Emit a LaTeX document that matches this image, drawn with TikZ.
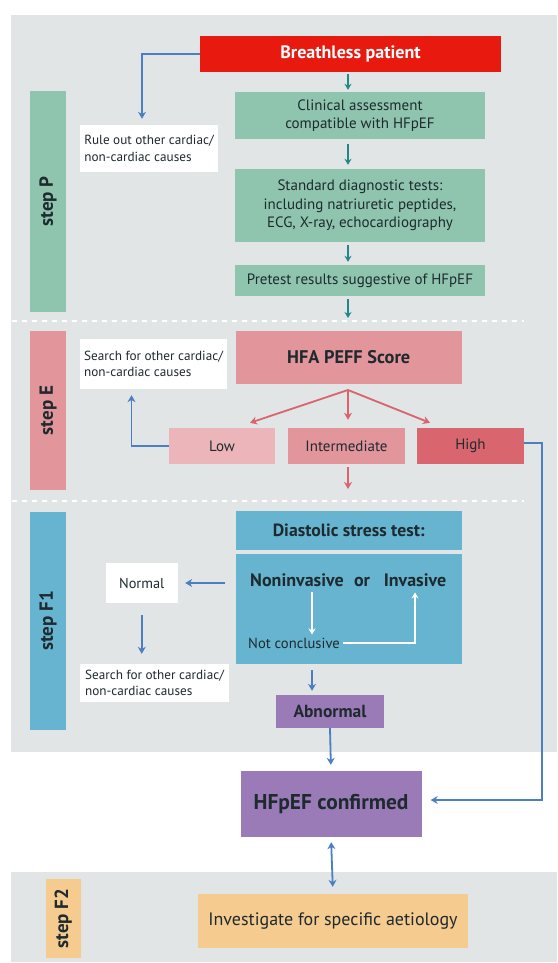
\documentclass[tikz,border=0pt]{standalone}
\usepackage{fontspec}
\setmainfont{PT Sans}
\usetikzlibrary{arrows.meta}

\definecolor{panelgray}{HTML}{E1E5E5}
\definecolor{textdark}{HTML}{1E2A2E}
\definecolor{alarmred}{HTML}{E8190E}
\definecolor{boxgreen}{HTML}{8FC4AE}
\definecolor{arrteal}{HTML}{23878A}
\definecolor{boxpink}{HTML}{E3959C}
\definecolor{lightpink}{HTML}{EBB5BA}
\definecolor{darkpink}{HTML}{D9666E}
\definecolor{arrpink}{HTML}{D9646C}
\definecolor{boxblue}{HTML}{66B4CF}
\definecolor{arrblue}{HTML}{4A7FC1}
\definecolor{boxpurple}{HTML}{9A7BB8}
\definecolor{boxtan}{HTML}{F5CB8F}

\tikzset{
  box/.style={inner sep=0pt, align=center, text=textdark},
  greenbox/.style={box, fill=boxgreen, minimum width=250pt, font=\fontsize{15}{18.5}\selectfont},
  notebox/.style={box, fill=white, align=left, font=\fontsize{13.2}{16.5}\selectfont},
  stepbar/.style={box, rotate=90, minimum height=36pt, font=\bfseries\fontsize{19}{20}\selectfont},
  levelbox/.style={box, minimum height=36pt, font=\fontsize{15}{17}\selectfont},
  choice/.style={box, anchor=base, font=\bfseries\fontsize{18}{20}\selectfont},
  sepline/.style={white, line width=2pt, dash pattern=on 5pt off 5pt},
  tealarr/.style={arrteal, line width=1.8pt, -{Stealth[length=6pt,width=7pt]}, shorten <=3pt, shorten >=3pt},
  pinkarr/.style={arrpink, line width=1.8pt, -{Stealth[length=7pt,width=8pt]}},
  bluearr/.style={arrblue, line width=1.8pt, -{Stealth[length=7pt,width=8pt]}},
  whitearr/.style={white, line width=1.8pt, -{Stealth[length=6pt,width=7pt]}}
}

\begin{document}
\begin{tikzpicture}[x=1pt,y=-1pt]
  \useasboundingbox (0,0) rectangle (557,963);
  % background bands
  \fill[panelgray] (11,15) rectangle (557,752);
  \fill[panelgray] (11,872) rectangle (557,962);
  \draw[sepline] (12,321) -- (524,321);
  \draw[sepline] (12,501) -- (524,501);
  \coordinate (spine) at (348,0);
  \coordinate (lane) at (312,0);

  % step P
  \node[stepbar, fill=boxgreen, minimum width=221pt] (stepP) at (48,201.5) {step P};
  \node[box, fill=alarmred, text=white, minimum width=301pt, minimum height=36pt,
    font=\bfseries\fontsize{18}{20}\selectfont] (breath) at (350.5,54) {Breathless patient};
  \node[greenbox, minimum height=47pt] (clin) at (360,115.5) {Clinical assessment\\compatible with HFpEF};
  \node[greenbox, minimum height=73pt] (stdtests) at (360,205.5)
    {Standard diagnostic tests:\\including natriuretic peptides,\\ECG, X-ray, echocardiography};
  \node[greenbox, minimum height=31pt] (pretest) at (360,280.5) {Pretest results suggestive of HFpEF};
  \node[notebox, minimum width=138pt, minimum height=47pt] (ruleout) at (149,148.5)
    {Rule out other cardiac/\\non-cardiac causes};
  \coordinate (pend) at (348,318);

  % step E
  \node[stepbar, fill=boxpink, minimum width=159pt] (stepE) at (48,410.5) {step E};
  \node[box, fill=boxpink, minimum width=226.5pt, minimum height=53pt,
    font=\bfseries\fontsize{18.3}{20}\selectfont] (peff) at (348.75,357.5) {HFA PEFF Score};
  \node[notebox, minimum width=147pt, minimum height=50pt] (searchE) at (153.5,364)
    {Search for other cardiac/\\non-cardiac causes};
  \node[levelbox, fill=lightpink, minimum width=106pt] (low) at (222,446) {Low};
  \node[levelbox, fill=boxpink, minimum width=117pt] (inter) at (346.5,446) {Intermediate};
  \node[levelbox, fill=darkpink, minimum width=107pt] (high) at (470.5,446) {High};
  \coordinate (fork) at (348,390);
  \coordinate (eend) at (348,489);

  % step F1
  \node[stepbar, fill=boxblue, minimum width=218pt] (stepF1) at (48,621) {step F1};
  \node[box, fill=boxblue, minimum width=226.5pt, minimum height=39pt,
    font=\bfseries\fontsize{17.7}{19}\selectfont] (diasthead) at (348.75,530.5) {Diastolic stress test:};
  \node[box, fill=boxblue, minimum width=226.5pt, minimum height=110pt] (diast) at (348.75,609) {};
  \node[choice] (noninv) at (297,586) {Noninvasive};
  \node[choice] (orword) at (362,586) {or};
  \node[choice] (inv) at (415,586) {Invasive};
  \node[box, anchor=west, font=\fontsize{14.6}{16}\selectfont] (notconc) at (248,643) {Not conclusive};
  \node[box, fill=white, minimum width=72.5pt, minimum height=40pt,
    font=\fontsize{14.4}{16}\selectfont] (normal) at (141.75,583) {Normal};
  \node[notebox, minimum width=149pt, minimum height=38pt] (searchF) at (154.5,683)
    {Search for other cardiac/\\non-cardiac causes};
  \node[box, fill=boxpurple, minimum width=108pt, minimum height=33pt,
    font=\bfseries\fontsize{17.5}{19}\selectfont] (abnormal) at (330,711.5) {Abnormal};

  % confirmed + step F2
  \node[box, fill=boxpurple, minimum width=181pt, minimum height=66pt,
    font=\bfseries\fontsize{21.4}{23}\selectfont] (confirmed) at (331,804) {HFpEF confirmed};
  \node[stepbar, fill=boxtan, minimum width=79pt, minimum height=35.5pt] (stepFtwo) at (63.25,918.5) {step F2};
  \node[box, fill=boxtan, minimum width=270pt, minimum height=54pt,
    font=\fontsize{18}{20}\selectfont] (invest) at (333,921) {Investigate for specific aetiology};

  \begin{scope}
    \draw[tealarr, shorten <=2pt, shorten >=2pt] (breath.south -| spine) -- (clin.north -| spine);
    \draw[tealarr, shorten <=5pt, shorten >=4pt] (clin.south -| spine) -- (stdtests.north -| spine);
    \draw[tealarr] (stdtests.south -| spine) -- (pretest.north -| spine);
    \draw[tealarr, shorten >=0pt] (pretest.south -| spine) -- (pend);
    \draw[bluearr] (breath.west) -| ([xshift=-7pt,yshift=6pt]ruleout.north);

    \draw[pinkarr] (fork) -- ([xshift=28pt,yshift=5pt]low.north);
    \draw[pinkarr, shorten >=8pt] (fork) -- (inter.north -| fork);
    \draw[pinkarr] (fork) -- ([xshift=-40.5pt,yshift=5pt]high.north);
    \draw[pinkarr, shorten <=3pt] (inter.south -| eend) -- (eend);
    \draw[bluearr] (low.west) -| ([xshift=-22pt,yshift=-6pt]searchE.south);
    \draw[bluearr] ([yshift=3pt]high.east) -- ++(18,0) |- ([xshift=9pt,yshift=4pt]confirmed.east);

    \draw[whitearr, shorten <=6pt, shorten >=3pt] (noninv.south -| lane) -- (notconc.north -| lane);
    \draw[whitearr, shorten <=3pt, shorten >=6pt] (notconc.east) -| (inv.south);
    \draw[bluearr, shorten <=10pt, shorten >=7pt] (diast.west |- normal.east) -- (normal.east);
    \draw[bluearr, shorten <=12pt, shorten >=10pt] (normal.south) -- (normal.south |- searchF.north);
    \draw[bluearr, shorten <=6pt, shorten >=4pt] (diast.south -| lane) -- (abnormal.north -| lane);
    \draw[bluearr, shorten >=6pt] (abnormal.south) -- (confirmed.north);
    \draw[bluearr, {Stealth[length=7pt,width=8pt]}-{Stealth[length=7pt,width=8pt]},
      shorten <=5pt, shorten >=7pt] (confirmed.south) -- (invest.north);
  \end{scope}
\end{tikzpicture}
\end{document}
